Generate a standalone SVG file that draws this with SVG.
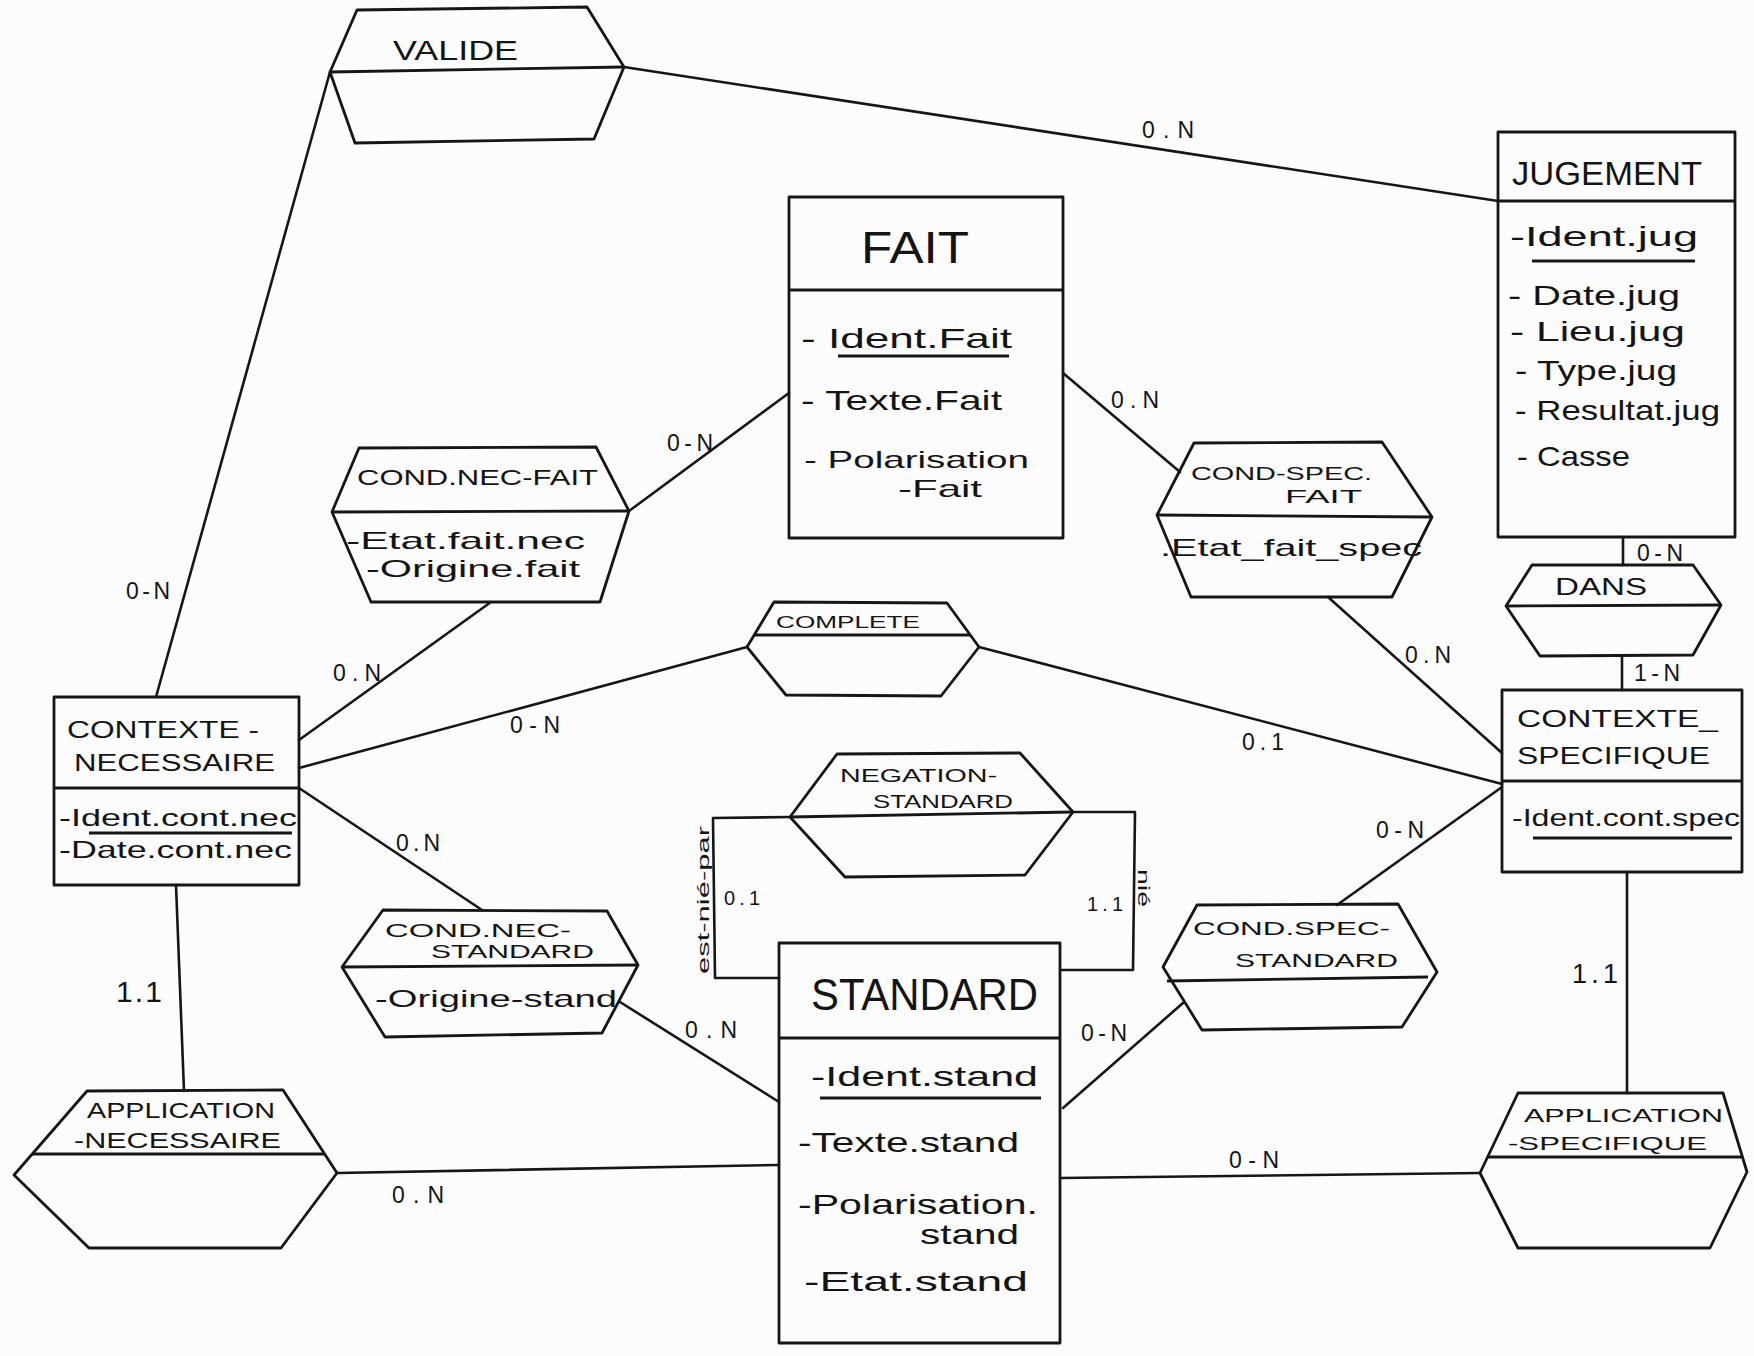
<svg xmlns="http://www.w3.org/2000/svg" width="1754" height="1356" viewBox="0 0 1754 1356">
  <style>
    .ln { fill: none; stroke: #161616; stroke-width: 2.6; stroke-linejoin: round; stroke-linecap: round; }
    .sh { fill: none; stroke: #161616; stroke-width: 2.8; stroke-linejoin: round; }
    text { font-family: "Liberation Sans", "DejaVu Sans", sans-serif; fill: #141414; }
    .t1 { font-size: 44px; }
    .t2 { font-size: 34px; }
    .hx { font-size: 22px; }
    .hs { font-size: 19px; }
    .at { font-size: 28px; }
    .as { font-size: 24px; }
    .cd { font-size: 23px; text-anchor: middle; }
    .rot { font-size: 17px; }
  </style>
  <rect x="0" y="0" width="1754" height="1356" fill="#fcfcfc"/>

  <!-- connectors -->
  <g id="connectors">
    <line class="ln" x1="330" y1="72" x2="156" y2="697"/>
    <line class="ln" x1="624" y1="67" x2="1498" y2="201"/>
    <line class="ln" x1="629" y1="511" x2="789" y2="393"/>
    <line class="ln" x1="491" y1="602" x2="299" y2="740"/>
    <line class="ln" x1="299" y1="768" x2="747" y2="647"/>
    <line class="ln" x1="979" y1="647" x2="1502" y2="784"/>
    <line class="ln" x1="299" y1="788" x2="482" y2="910"/>
    <line class="ln" x1="176" y1="885" x2="184" y2="1091"/>
    <line class="ln" x1="620" y1="1002" x2="779" y2="1102"/>
    <line class="ln" x1="337" y1="1173" x2="779" y2="1165"/>
    <line class="ln" x1="1063" y1="373" x2="1180" y2="472"/>
    <line class="ln" x1="1328" y1="597" x2="1502" y2="753"/>
    <line class="ln" x1="1623" y1="537" x2="1623" y2="565"/>
    <line class="ln" x1="1622" y1="656" x2="1622" y2="690"/>
    <line class="ln" x1="1627" y1="872" x2="1627" y2="1093"/>
    <line class="ln" x1="1060" y1="1178" x2="1480" y2="1173"/>
    <line class="ln" x1="1063" y1="1108" x2="1183" y2="1003"/>
    <line class="ln" x1="1337" y1="905" x2="1502" y2="787"/>
    <polyline class="ln" points="790,817 713,818 715,978 779,978"/>
    <polyline class="ln" points="1073,812 1135,812 1133,970 1060,970"/>

    <!-- cardinalities -->
    <text class="cd" x="1168" y="138" textLength="52">0.N</text>
    <text class="cd" x="148" y="599" textLength="44">0-N</text>
    <text class="cd" x="690" y="451" textLength="46">0-N</text>
    <text class="cd" x="1135" y="408" textLength="48">0.N</text>
    <text class="cd" x="357" y="681" textLength="48">0.N</text>
    <text class="cd" x="535" y="733" textLength="50">0-N</text>
    <text class="cd" x="1263" y="750" textLength="42">0.1</text>
    <text class="cd" x="1428" y="663" textLength="46">0.N</text>
    <text class="cd" x="418" y="851" textLength="44">0.N</text>
    <text class="cd" x="1400" y="838" textLength="48">0-N</text>
    <text class="cd" x="1660" y="561" textLength="46">0-N</text>
    <text class="cd" x="1657" y="681" textLength="46">1-N</text>
    <text class="cd" x="711" y="1038" textLength="52">0.N</text>
    <text class="cd" x="418" y="1203" textLength="52">0.N</text>
    <text class="cd" x="1104" y="1041" textLength="46">0-N</text>
    <text class="cd" x="1254" y="1168" textLength="50">0-N</text>
    <text class="cd" x="139" y="1002" textLength="46" style="font-size:30px">1.1</text>
    <text class="cd" x="1595" y="983" textLength="46" style="font-size:27px">1.1</text>
    <text class="cd" x="742" y="905" textLength="36" style="font-size:20px">0.1</text>
    <text class="cd" x="1105" y="911" textLength="36" style="font-size:20px">1.1</text>
    <text class="rot" transform="translate(709,900) rotate(-90)" text-anchor="middle" textLength="148" lengthAdjust="spacingAndGlyphs">est-nié-par</text>
    <text class="rot" transform="translate(1138,888) rotate(90)" text-anchor="middle" textLength="38" lengthAdjust="spacingAndGlyphs">nié</text>
  </g>

  <!-- relationships -->
  <g id="valide">
    <polygon class="sh" points="357,10 587,7 624,67 594,139 355,143 330,72"/>
    <line class="sh" x1="330" y1="72" x2="624" y2="67"/>
    <text class="hx" x="393" y="60" textLength="125" lengthAdjust="spacingAndGlyphs" style="font-size:28px">VALIDE</text>
  </g>

  <g id="cond-nec-fait">
    <polygon class="sh" points="359,448 596,447 629,511 600,602 371,602 332,512"/>
    <line class="sh" x1="332" y1="512" x2="629" y2="511"/>
    <text class="hx" x="357" y="485" textLength="241" lengthAdjust="spacingAndGlyphs">COND.NEC-FAIT</text>
    <text class="as" x="346" y="549" textLength="239" lengthAdjust="spacingAndGlyphs">-Etat.fait.nec</text>
    <text class="as" x="366" y="577" textLength="214" lengthAdjust="spacingAndGlyphs">-Origine.fait</text>
  </g>

  <g id="complete">
    <polygon class="sh" points="774,602 947,603 979,647 941,696 786,695 747,647"/>
    <line class="sh" x1="754" y1="635" x2="970" y2="635"/>
    <text class="hs" x="776" y="628" textLength="144" lengthAdjust="spacingAndGlyphs" style="font-size:17px">COMPLETE</text>
  </g>

  <g id="cond-spec-fait">
    <polygon class="sh" points="1194,443 1382,442 1432,517 1392,597 1191,597 1157,515"/>
    <line class="sh" x1="1157" y1="515" x2="1432" y2="517"/>
    <text class="hs" x="1191" y="480" textLength="181" lengthAdjust="spacingAndGlyphs">COND-SPEC.</text>
    <text class="hs" x="1285" y="503" textLength="77" lengthAdjust="spacingAndGlyphs">FAIT</text>
    <text class="as" x="1160" y="556" textLength="262" lengthAdjust="spacingAndGlyphs">.Etat_fait_spec</text>
  </g>

  <g id="dans">
    <polygon class="sh" points="1532,565 1693,565 1721,605 1693,655 1540,656 1506,606"/>
    <line class="sh" x1="1506" y1="606" x2="1721" y2="605"/>
    <text class="hx" x="1555" y="595" textLength="92" lengthAdjust="spacingAndGlyphs" style="font-size:24px">DANS</text>
  </g>

  <g id="negation-standard">
    <polygon class="sh" points="837,754 1020,753 1073,812 1025,875 845,877 790,817"/>
    <line class="sh" x1="790" y1="817" x2="1073" y2="812"/>
    <text class="hs" x="840" y="782" textLength="157" lengthAdjust="spacingAndGlyphs">NEGATION-</text>
    <text class="hs" x="873" y="808" textLength="140" lengthAdjust="spacingAndGlyphs">STANDARD</text>
  </g>

  <g id="cond-nec-standard">
    <polygon class="sh" points="383,910 607,911 638,965 602,1033 385,1037 342,967"/>
    <line class="sh" x1="342" y1="967" x2="638" y2="965"/>
    <text class="hs" x="385" y="937" textLength="186" lengthAdjust="spacingAndGlyphs">COND.NEC-</text>
    <text class="hs" x="431" y="958" textLength="163" lengthAdjust="spacingAndGlyphs">STANDARD</text>
    <text class="as" x="375" y="1007" textLength="242" lengthAdjust="spacingAndGlyphs">-Origine-stand</text>
  </g>

  <g id="cond-spec-standard">
    <polygon class="sh" points="1197,905 1398,904 1437,972 1402,1027 1202,1030 1163,967"/>
    <line class="sh" x1="1167" y1="981" x2="1428" y2="977"/>
    <text class="hs" x="1193" y="935" textLength="197" lengthAdjust="spacingAndGlyphs">COND.SPEC-</text>
    <text class="hs" x="1235" y="967" textLength="163" lengthAdjust="spacingAndGlyphs">STANDARD</text>
  </g>

  <g id="application-necessaire">
    <polygon class="sh" points="87,1091 283,1090 337,1173 281,1248 89,1248 14,1175"/>
    <line class="sh" x1="32" y1="1154" x2="325" y2="1154"/>
    <text class="hx" x="87" y="1118" textLength="188" lengthAdjust="spacingAndGlyphs">APPLICATION</text>
    <text class="hx" x="74" y="1148" textLength="207" lengthAdjust="spacingAndGlyphs">-NECESSAIRE</text>
  </g>

  <g id="application-specifique">
    <polygon class="sh" points="1518,1093 1723,1093 1747,1172 1710,1248 1518,1248 1480,1173"/>
    <line class="sh" x1="1488" y1="1157" x2="1742" y2="1157"/>
    <text class="hs" x="1524" y="1122" textLength="199" lengthAdjust="spacingAndGlyphs">APPLICATION</text>
    <text class="hs" x="1508" y="1150" textLength="199" lengthAdjust="spacingAndGlyphs">-SPECIFIQUE</text>
  </g>

  <!-- entities -->
  <g id="jugement">
    <rect class="sh" x="1498" y="132" width="237" height="405"/>
    <line class="sh" x1="1498" y1="201" x2="1735" y2="201"/>
    <text class="t2" x="1512" y="185" textLength="190" lengthAdjust="spacingAndGlyphs">JUGEMENT</text>
    <text class="at" x="1510" y="246" textLength="188" lengthAdjust="spacingAndGlyphs">-Ident.jug</text>
    <line class="sh" x1="1532" y1="261" x2="1695" y2="261"/>
    <text class="at" x="1508" y="305" textLength="172" lengthAdjust="spacingAndGlyphs">- Date.jug</text>
    <text class="at" x="1510" y="341" textLength="175" lengthAdjust="spacingAndGlyphs">- Lieu.jug</text>
    <text class="at" x="1515" y="380" textLength="162" lengthAdjust="spacingAndGlyphs">- Type.jug</text>
    <text class="at" x="1515" y="420" textLength="205" lengthAdjust="spacingAndGlyphs">- Resultat.jug</text>
    <text class="at" x="1517" y="466" textLength="113" lengthAdjust="spacingAndGlyphs">- Casse</text>
  </g>

  <g id="fait">
    <rect class="sh" x="789" y="197" width="274" height="341"/>
    <line class="sh" x1="789" y1="290" x2="1063" y2="290"/>
    <text class="t1" x="861" y="263" textLength="108" lengthAdjust="spacingAndGlyphs">FAIT</text>
    <text class="at" x="801" y="348" textLength="211" lengthAdjust="spacingAndGlyphs">- Ident.Fait</text>
    <line class="sh" x1="838" y1="356" x2="1009" y2="356"/>
    <text class="at" x="801" y="410" textLength="201" lengthAdjust="spacingAndGlyphs">- Texte.Fait</text>
    <text class="as" x="804" y="468" textLength="225" lengthAdjust="spacingAndGlyphs">- Polarisation</text>
    <text class="as" x="898" y="497" textLength="84" lengthAdjust="spacingAndGlyphs">-Fait</text>
  </g>

  <g id="contexte-necessaire">
    <rect class="sh" x="54" y="697" width="245" height="188"/>
    <line class="sh" x1="54" y1="788" x2="299" y2="788"/>
    <text class="as" x="67" y="738" textLength="192" lengthAdjust="spacingAndGlyphs">CONTEXTE -</text>
    <text class="as" x="74" y="771" textLength="201" lengthAdjust="spacingAndGlyphs">NECESSAIRE</text>
    <text class="as" x="59" y="826" textLength="238" lengthAdjust="spacingAndGlyphs">-Ident.cont.nec</text>
    <line class="sh" x1="89" y1="833" x2="292" y2="833"/>
    <text class="as" x="59" y="858" textLength="233" lengthAdjust="spacingAndGlyphs">-Date.cont.nec</text>
  </g>

  <g id="contexte-specifique">
    <rect class="sh" x="1502" y="690" width="240" height="182"/>
    <line class="sh" x1="1502" y1="781" x2="1742" y2="781"/>
    <text class="as" x="1517" y="727" textLength="201" lengthAdjust="spacingAndGlyphs">CONTEXTE_</text>
    <text class="as" x="1517" y="764" textLength="193" lengthAdjust="spacingAndGlyphs">SPECIFIQUE</text>
    <text class="as" x="1512" y="826" textLength="228" lengthAdjust="spacingAndGlyphs">-Ident.cont.spec</text>
    <line class="sh" x1="1533" y1="838" x2="1732" y2="838"/>
  </g>

  <g id="standard">
    <rect class="sh" x="779" y="943" width="281" height="400"/>
    <line class="sh" x1="779" y1="1038" x2="1060" y2="1038"/>
    <text class="t1" x="811" y="1010" textLength="227" lengthAdjust="spacingAndGlyphs">STANDARD</text>
    <text class="at" x="811" y="1086" textLength="227" lengthAdjust="spacingAndGlyphs">-Ident.stand</text>
    <line class="sh" x1="820" y1="1098" x2="1041" y2="1098"/>
    <text class="at" x="798" y="1152" textLength="221" lengthAdjust="spacingAndGlyphs">-Texte.stand</text>
    <text class="at" x="798" y="1214" textLength="240" lengthAdjust="spacingAndGlyphs">-Polarisation.</text>
    <text class="at" x="920" y="1244" textLength="99" lengthAdjust="spacingAndGlyphs">stand</text>
    <text class="at" x="804" y="1291" textLength="224" lengthAdjust="spacingAndGlyphs">-Etat.stand</text>
  </g>
</svg>
